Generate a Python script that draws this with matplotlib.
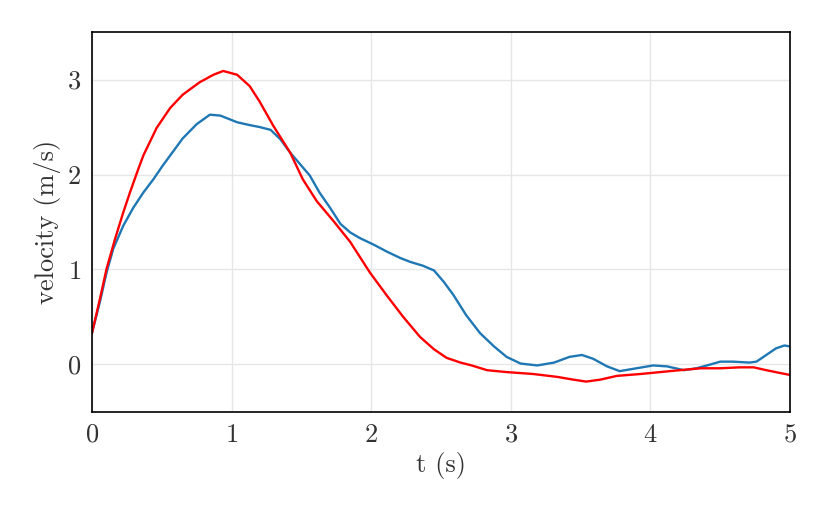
import matplotlib
matplotlib.use("Agg")
import matplotlib.pyplot as plt

t_meas = [0.0, 0.057, 0.105, 0.153, 0.224, 0.296, 0.368, 0.44, 0.51, 0.56, 0.65,
          0.75, 0.845, 0.92, 1.04, 1.13, 1.2, 1.28, 1.35, 1.42, 1.49, 1.56, 1.63,
          1.71, 1.78, 1.85, 1.92, 2.02, 2.11, 2.21, 2.28, 2.37, 2.45, 2.52, 2.59,
          2.68, 2.78, 2.88, 2.97, 3.07, 3.19, 3.31, 3.42, 3.51, 3.59, 3.69, 3.78,
          3.9, 4.02, 4.12, 4.24, 4.33, 4.43, 4.5, 4.59, 4.71, 4.76, 4.83, 4.9,
          4.96, 5.0]
v_meas = [0.33, 0.66, 0.97, 1.22, 1.46, 1.65, 1.81, 1.95, 2.1, 2.2, 2.38,
          2.53, 2.63, 2.62, 2.55, 2.52, 2.5, 2.47, 2.37, 2.23, 2.11, 1.99, 1.81,
          1.64, 1.48, 1.39, 1.33, 1.26, 1.19, 1.12, 1.08, 1.04, 0.99, 0.87, 0.73,
          0.52, 0.33, 0.19, 0.08, 0.01, -0.01, 0.02, 0.08, 0.1, 0.06, -0.02, -0.07,
          -0.04, -0.01, -0.02, -0.06, -0.04, 0.0, 0.03, 0.03, 0.02, 0.03, 0.1, 0.17,
          0.2, 0.19]

# model velocity (red)
t_model = [0.0, 0.057, 0.105, 0.165, 0.224, 0.272, 0.33, 0.368, 0.463, 0.56,
           0.65, 0.77, 0.87, 0.94, 1.04, 1.13, 1.2, 1.3, 1.42, 1.51, 1.61, 1.73,
           1.85, 1.99, 2.11, 2.23, 2.35, 2.45, 2.54, 2.64, 2.72, 2.83, 2.97, 3.16,
           3.33, 3.45, 3.54, 3.64, 3.76, 3.93, 4.07, 4.21, 4.36, 4.5, 4.64, 4.74,
           4.83, 4.93, 5.0]
v_model = [0.33, 0.69, 1.01, 1.32, 1.6, 1.81, 2.05, 2.2, 2.49, 2.7,
           2.84, 2.97, 3.05, 3.09, 3.05, 2.93, 2.77, 2.51, 2.23, 1.95, 1.72, 1.51,
           1.29, 0.97, 0.73, 0.5, 0.29, 0.16, 0.07, 0.02, -0.01, -0.06, -0.08, -0.1,
           -0.13, -0.16, -0.18, -0.16, -0.12, -0.1, -0.08, -0.06, -0.04, -0.04, -0.03, -0.03,
           -0.06, -0.09, -0.11]

plt.rcParams['font.family'] = ['cmr10', 'DejaVu Serif']
plt.rcParams['mathtext.fontset'] = 'cm'
plt.rcParams['axes.formatter.use_mathtext'] = True

fig = plt.figure(figsize=(8.3, 5.19), dpi=100)
ax = fig.add_axes([0.1108, 0.2062, 0.841, 0.7321])

ax.plot(t_meas, v_meas, color='#1f77b4', linewidth=1.7)
ax.plot(t_model, v_model, color='red', linewidth=1.7)

ax.set_xlim(0, 5)
ax.set_ylim(-0.5, 3.5)
ax.set_xticks([0, 1, 2, 3, 4, 5])
ax.set_yticks([0, 1, 2, 3])
ax.tick_params(length=0, labelsize=19, pad=8, labelcolor='#333333')
ax.grid(True, color='#e6e6e6', linewidth=1)
ax.set_axisbelow(True)
for s in ax.spines.values():
    s.set_linewidth(1.2)

ax.set_xlabel('t (s)', fontsize=19, color='#333333')
ax.set_ylabel('velocity (m/s)', fontsize=19, color='#333333')

fig.savefig('out.png', dpi=100)
